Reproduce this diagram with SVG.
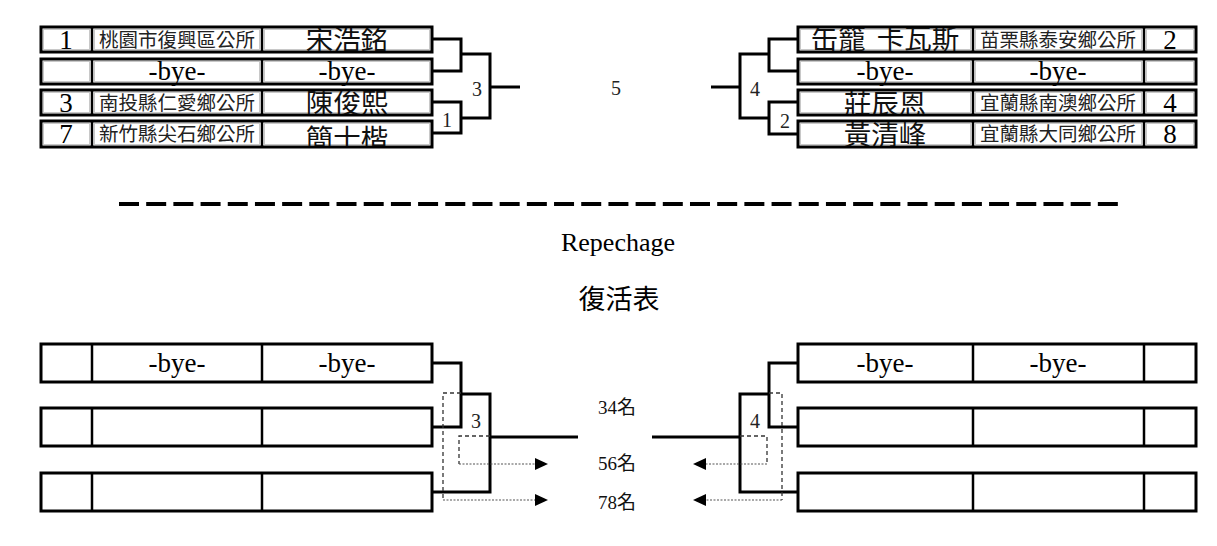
<svg xmlns="http://www.w3.org/2000/svg" width="1217" height="546" viewBox="0 0 1217 546">
<style>
.row{fill:#fff;stroke:#000;stroke-width:3}
.div{stroke:#000;stroke-width:2.5}
.in{fill:none;stroke:#c8c8c8;stroke-width:1}
.t{font-family:"Liberation Serif","Noto Sans CJK TC",serif;fill:#000;text-anchor:middle}
.seed{font-size:27px}
.bye{font-size:27px}
.team{font-size:19.5px;fill:#222}
.name{font-size:27.5px;fill:#111}
.lab{font-size:20px;fill:#222}
.rk{font-size:19px;fill:#111}
.br{fill:none;stroke:#000;stroke-width:3}
.dash{fill:none;stroke:#333;stroke-width:1.3;stroke-dasharray:4 3}
.dot{fill:none;stroke:#555;stroke-width:1.2;stroke-dasharray:2 1.5}
.arr{fill:#000}
</style>
<defs>
<clipPath id="cL1"><rect x="263" y="28" width="168" height="23"/></clipPath>
<clipPath id="cL3"><rect x="263" y="91" width="168" height="23"/></clipPath>
<clipPath id="cL4"><rect x="263" y="122" width="168" height="24"/></clipPath>
<clipPath id="cR1"><rect x="799" y="28" width="173" height="23"/></clipPath>
<clipPath id="cR3"><rect x="799" y="91" width="173" height="23"/></clipPath>
<clipPath id="cR4"><rect x="799" y="122" width="173" height="24"/></clipPath>
</defs>
<rect width="1217" height="546" fill="#fff"/>

<!-- top left rows -->
<g id="L1">
<rect class="row" x="41" y="27" width="391" height="25"/>
<rect class="in" x="43.5" y="29.5" width="46" height="20"/><rect class="in" x="94.5" y="29.5" width="165" height="20"/><rect class="in" x="264.5" y="29.5" width="165" height="20"/>
<line class="div" x1="92" y1="27" x2="92" y2="52"/><line class="div" x1="262" y1="27" x2="262" y2="52"/>
<text class="t seed" x="66" y="49">1</text>
<text class="t team" x="177" y="47">桃園市復興區公所</text>
<text class="t name" x="347" y="50" clip-path="url(#cL1)">宋浩銘</text>
</g>
<g id="L2">
<rect class="row" x="41" y="59" width="391" height="25"/>
<rect class="in" x="43.5" y="61.5" width="46" height="20"/><rect class="in" x="94.5" y="61.5" width="165" height="20"/><rect class="in" x="264.5" y="61.5" width="165" height="20"/>
<line class="div" x1="92" y1="59" x2="92" y2="84"/><line class="div" x1="262" y1="59" x2="262" y2="84"/>
<text class="t bye" x="177" y="80">-bye-</text>
<text class="t bye" x="347" y="80">-bye-</text>
</g>
<g id="L3">
<rect class="row" x="41" y="90" width="391" height="25"/>
<rect class="in" x="43.5" y="92.5" width="46" height="20"/><rect class="in" x="94.5" y="92.5" width="165" height="20"/><rect class="in" x="264.5" y="92.5" width="165" height="20"/>
<line class="div" x1="92" y1="90" x2="92" y2="115"/><line class="div" x1="262" y1="90" x2="262" y2="115"/>
<text class="t seed" x="66" y="112">3</text>
<text class="t team" x="177" y="110">南投縣仁愛鄉公所</text>
<text class="t name" x="347" y="113" clip-path="url(#cL3)">陳俊熙</text>
</g>
<g id="L4">
<rect class="row" x="41" y="121" width="391" height="26"/>
<rect class="in" x="43.5" y="123.5" width="46" height="21"/><rect class="in" x="94.5" y="123.5" width="165" height="21"/><rect class="in" x="264.5" y="123.5" width="165" height="21"/>
<line class="div" x1="92" y1="121" x2="92" y2="147"/><line class="div" x1="262" y1="121" x2="262" y2="147"/>
<text class="t seed" x="66" y="143">7</text>
<text class="t team" x="177" y="141">新竹縣尖石鄉公所</text>
<text class="t name" x="347" y="149" clip-path="url(#cL4)">簡士楷</text>
</g>

<!-- top right rows -->
<g id="R1">
<rect class="row" x="798" y="27" width="398" height="25"/>
<rect class="in" x="800.5" y="29.5" width="170" height="20"/><rect class="in" x="975.5" y="29.5" width="166" height="20"/><rect class="in" x="1146.5" y="29.5" width="47" height="20"/>
<line class="div" x1="973" y1="27" x2="973" y2="52"/><line class="div" x1="1144" y1="27" x2="1144" y2="52"/>
<text class="t name" x="885" y="49" clip-path="url(#cR1)">缶籠 <tspan dx="4">卡瓦斯</tspan></text>
<text class="t team" x="1058" y="47">苗栗縣泰安鄉公所</text>
<text class="t seed" x="1170" y="49">2</text>
</g>
<g id="R2">
<rect class="row" x="798" y="59" width="398" height="25"/>
<rect class="in" x="800.5" y="61.5" width="170" height="20"/><rect class="in" x="975.5" y="61.5" width="166" height="20"/><rect class="in" x="1146.5" y="61.5" width="47" height="20"/>
<line class="div" x1="973" y1="59" x2="973" y2="84"/><line class="div" x1="1144" y1="59" x2="1144" y2="84"/>
<text class="t bye" x="885" y="80">-bye-</text>
<text class="t bye" x="1058" y="80">-bye-</text>
</g>
<g id="R3">
<rect class="row" x="798" y="90" width="398" height="25"/>
<rect class="in" x="800.5" y="92.5" width="170" height="20"/><rect class="in" x="975.5" y="92.5" width="166" height="20"/><rect class="in" x="1146.5" y="92.5" width="47" height="20"/>
<line class="div" x1="973" y1="90" x2="973" y2="115"/><line class="div" x1="1144" y1="90" x2="1144" y2="115"/>
<text class="t name" x="885" y="114" clip-path="url(#cR3)">莊辰恩</text>
<text class="t team" x="1058" y="110">宜蘭縣南澳鄉公所</text>
<text class="t seed" x="1170" y="112">4</text>
</g>
<g id="R4">
<rect class="row" x="798" y="121" width="398" height="26"/>
<rect class="in" x="800.5" y="123.5" width="170" height="21"/><rect class="in" x="975.5" y="123.5" width="166" height="21"/><rect class="in" x="1146.5" y="123.5" width="47" height="21"/>
<line class="div" x1="973" y1="121" x2="973" y2="147"/><line class="div" x1="1144" y1="121" x2="1144" y2="147"/>
<text class="t name" x="885" y="145" clip-path="url(#cR4)">黃清峰</text>
<text class="t team" x="1058" y="141">宜蘭縣大同鄉公所</text>
<text class="t seed" x="1170" y="143">8</text>
</g>

<!-- bottom rows -->
<g id="BL1">
<rect class="row" x="41" y="344" width="391" height="38"/>
<line class="div" x1="92" y1="344" x2="92" y2="382"/><line class="div" x1="262" y1="344" x2="262" y2="382"/>
<text class="t bye" x="177" y="372">-bye-</text>
<text class="t bye" x="347" y="372">-bye-</text>
</g>
<g id="BL2">
<rect class="row" x="41" y="408" width="391" height="38"/>
<line class="div" x1="92" y1="408" x2="92" y2="446"/><line class="div" x1="262" y1="408" x2="262" y2="446"/>
</g>
<g id="BL3">
<rect class="row" x="41" y="473" width="391" height="38"/>
<line class="div" x1="92" y1="473" x2="92" y2="511"/><line class="div" x1="262" y1="473" x2="262" y2="511"/>
</g>
<g id="BR1">
<rect class="row" x="798" y="344" width="398" height="38"/>
<line class="div" x1="973" y1="344" x2="973" y2="382"/><line class="div" x1="1144" y1="344" x2="1144" y2="382"/>
<text class="t bye" x="885" y="372">-bye-</text>
<text class="t bye" x="1058" y="372">-bye-</text>
</g>
<g id="BR2">
<rect class="row" x="798" y="408" width="398" height="38"/>
<line class="div" x1="973" y1="408" x2="973" y2="446"/><line class="div" x1="1144" y1="408" x2="1144" y2="446"/>
</g>
<g id="BR3">
<rect class="row" x="798" y="473" width="398" height="38"/>
<line class="div" x1="973" y1="473" x2="973" y2="511"/><line class="div" x1="1144" y1="473" x2="1144" y2="511"/>
</g>

<!-- connectors -->
<g id="connectors">
<path class="br" d="M432,39 H461 V71 H432"/>
<path class="br" d="M432,102 H461 V133 H432"/>
<path class="br" d="M461,54 H490 V118 H461"/>
<path class="br" d="M490,87 H520"/>
<path class="br" d="M798,39 H769 V71 H798"/>
<path class="br" d="M798,102 H769 V134 H798"/>
<path class="br" d="M769,54 H740 V118 H769"/>
<path class="br" d="M740,87 H711"/>

<path class="br" d="M432,363 H461 V427 H432"/>
<path class="br" d="M461,394 H490 V492 H432"/>
<path class="br" d="M490,437 H578"/>
<path class="br" d="M798,363 H769 V427 H798"/>
<path class="br" d="M769,394 H740 V492 H798"/>
<path class="br" d="M740,437 H652"/>

<path class="dash" d="M461,393 H443 V500"/>
<path class="dot" d="M443,500 H536"/>
<polygon class="arr" points="535,494 548,500 535,506"/>
<path class="dash" d="M490,436 H459 V464"/>
<path class="dot" d="M459,464 H536"/>
<polygon class="arr" points="535,458 548,464 535,470"/>

<path class="dash" d="M769,393 H782 V500"/>
<path class="dot" d="M782,500 H705"/>
<polygon class="arr" points="706,494 693,500 706,506"/>
<path class="dash" d="M740,436 H767 V464"/>
<path class="dot" d="M767,464 H705"/>
<polygon class="arr" points="706,458 693,464 706,470"/>
</g>

<g id="labels">
<text class="t lab" x="477" y="96">3</text>
<text class="t lab" x="447" y="127">1</text>
<text class="t lab" x="755" y="96">4</text>
<text class="t lab" x="785" y="128">2</text>
<text class="t lab" x="616" y="95">5</text>
<text class="t lab" x="476" y="428">3</text>
<text class="t lab" x="755" y="428">4</text>
<text class="t rk" x="617" y="414">34名</text>
<text class="t rk" x="617" y="470">56名</text>
<text class="t rk" x="617" y="509">78名</text>
</g>

<line x1="119" y1="204" x2="1118" y2="204" stroke="#000" stroke-width="4" stroke-dasharray="20 7.19"/>
<text class="t" style="font-size:26px" x="618" y="251">Repechage</text>
<text class="t" style="font-size:27px" x="619" y="309">復活表</text>
</svg>
